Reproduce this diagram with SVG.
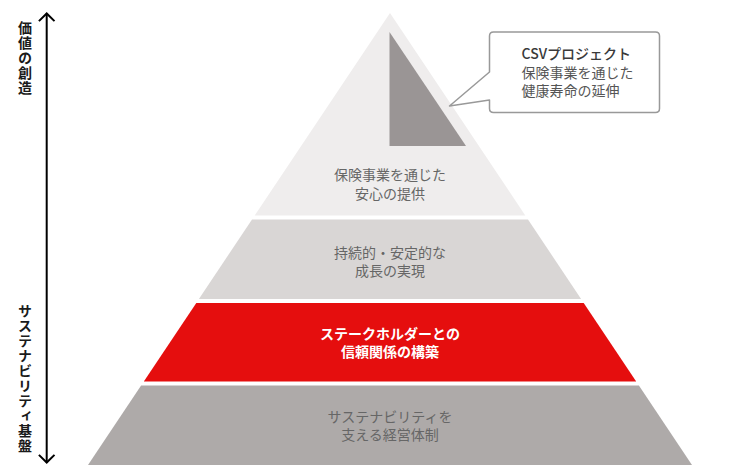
<svg xmlns="http://www.w3.org/2000/svg" width="730" height="465" viewBox="0 0 730 465">
<defs>
<style>
text{font-family:"Noto Sans CJK JP","Noto Sans",sans-serif;font-size:14px;text-anchor:middle}
.g{fill:#666666}
.w{fill:#ffffff;font-weight:bold}
.ax{fill:#1a1a1a;font-weight:bold;text-anchor:start;writing-mode:vertical-rl;letter-spacing:1px}
.cl{fill:#555555;text-anchor:start}
.clb{fill:#3a3a3a;text-anchor:start;font-weight:500}
</style>
<marker id="chev" viewBox="-10 -10 20 20" refX="0" refY="0" markerWidth="20" markerHeight="20" markerUnits="userSpaceOnUse" orient="auto-start-reverse">
<path d="M-7.6,-7.8 L0,0 L-7.6,7.8" fill="none" stroke="#000" stroke-width="2"/>
</marker>
</defs>
<rect width="730" height="465" fill="#ffffff"/>
<g id="connectors">
<line x1="46.7" y1="13.5" x2="46.7" y2="462.5" stroke="#000" stroke-width="2" marker-start="url(#chev)" marker-end="url(#chev)"/>
</g>
<g id="label-value">
<text class="ax" x="25" y="21">価値の創造</text>
</g>
<g id="label-base">
<text class="ax" x="25" y="304">サステナビリティ基盤</text>
</g>
<g id="layer1">
<polygon points="390,13 525.3,215.5 254.7,215.5" fill="#efeded"/>
<polygon points="389.5,32 389.5,146 466,146" fill="#9a9595"/>
<text class="g" x="390" y="180">保険事業を通じた</text>
<text class="g" x="390" y="198.5">安心の提供</text>
</g>
<g id="layer2">
<polygon points="252,219.5 528,219.5 581.1,299 198.9,299" fill="#d9d6d5"/>
<text class="g" x="390" y="257.5">持続的・安定的な</text>
<text class="g" x="390" y="276">成長の実現</text>
</g>
<g id="layer3">
<polygon points="196.3,303 583.7,303 636.2,381.5 143.8,381.5" fill="#e50e0e"/>
<text class="w" x="390" y="338.5">ステークホルダーとの</text>
<text class="w" x="390" y="357">信頼関係の構築</text>
</g>
<g id="layer4">
<polygon points="141.1,385.5 638.9,385.5 692,465 88,465" fill="#aeaaa9"/>
<text class="g" x="390" y="421.5">サステナビリティを</text>
<text class="g" x="390" y="440">支える経営体制</text>
</g>
<g id="callout">
<path d="M493.5,32 H655.5 Q659.5,32 659.5,36 V108.5 Q659.5,112.5 655.5,112.5 H493.5 Q489.5,112.5 489.5,108.5 V100 L449.5,106 L489.5,72 V36 Q489.5,32 493.5,32 Z" fill="#ffffff" stroke="#999999" stroke-width="1.5" stroke-linejoin="round"/>
<text class="clb" x="521.5" y="58.5">CSVプロジェクト</text>
<text class="cl" x="521.5" y="77.5">保険事業を通じた</text>
<text class="cl" x="521.5" y="96">健康寿命の延伸</text>
</g>
</svg>
